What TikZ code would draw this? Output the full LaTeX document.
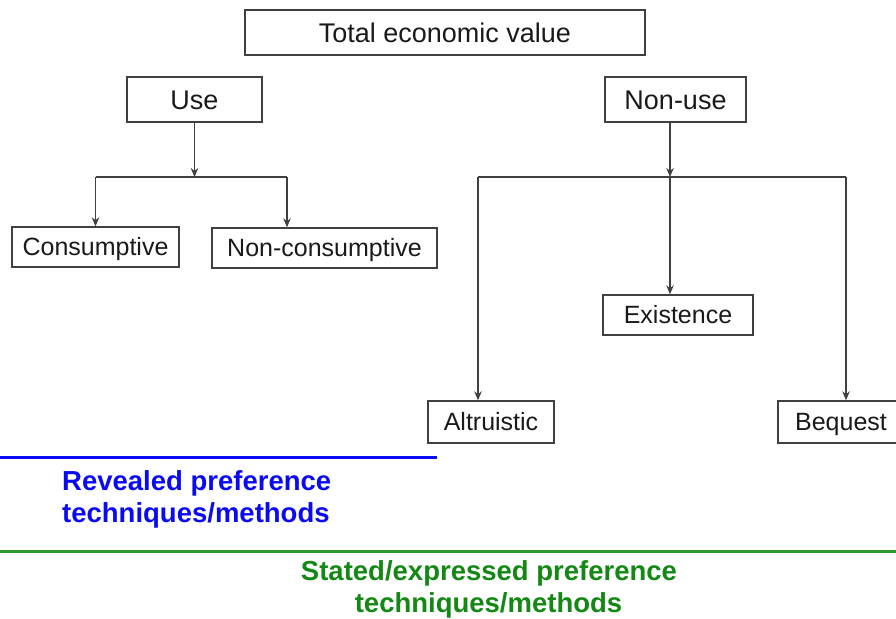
\documentclass[tikz,border=0pt]{standalone}
\usepackage{fontspec}
\setmainfont{Liberation Sans}
\usetikzlibrary{arrows.meta}
\definecolor{boxline}{HTML}{404040}
\definecolor{txt}{HTML}{1A1A1A}
\definecolor{revblue}{HTML}{0A0AF5}
\definecolor{statgreen}{HTML}{148814}
\definecolor{linegreen}{HTML}{2E9A2E}
\begin{document}
\begin{tikzpicture}[x=1pt,y=-1pt,
  box/.style={draw=boxline,line width=1.4pt,inner sep=0pt,text=txt,fill=white,text depth=0pt},
  big/.style={font=\fontsize{27}{32}\selectfont,text height=19.3pt},
  small/.style={font=\fontsize{25}{30}\selectfont,text height=17.9pt},
  conn/.style={draw=boxline,line width=1.2pt},
  arr/.style={conn,-{Stealth[length=9pt,width=7.5pt]}},
  revtext/.style={text=revblue,inner sep=0pt,font=\bfseries\fontsize{27.5}{32}\selectfont},
  stattext/.style={text=statgreen,inner sep=0pt,font=\bfseries\fontsize{27.5}{32}\selectfont}]
\clip (0,0) rectangle (896,618);
\fill[white] (0,0) rectangle (896,618);

% boxes
\node[box,big,minimum width=400pt,minimum height=45pt] (tev) at (445,32.5) {Total economic value};
\node[box,big,minimum width=135pt,minimum height=45pt] (use) at (194.5,99.5) {Use};
\node[box,big,minimum width=141pt,minimum height=45pt] (nonuse) at (675.5,99.5) {Non-use};
\node[box,small,minimum width=167pt,minimum height=40pt] (cons) at (95.5,247) {Consumptive};
\node[box,small,minimum width=225pt,minimum height=40pt] (ncons) at (324.5,248) {Non-consumptive};
\node[box,small,minimum width=150pt,minimum height=40pt] (exist) at (678,315) {Existence};
\node[box,small,minimum width=126pt,minimum height=42pt] (alt) at (491,422) {Altruistic};
\node[box,small,minimum width=126pt,minimum height=42pt] (beq) at (841,422) {Bequest};

% use branch
\coordinate (uj) at (194.5,177);
\coordinate (ul) at (95.5,177);
\coordinate (ur) at (287,177);
\draw[arr] (use) -- (uj);
\draw[conn] (ul) -- (ur);
\draw[arr] (ul) -- (cons.north);
\draw[arr] (ur) -- (ur |- ncons.north);

% non-use branch
\coordinate (nj) at (670,177);
\coordinate (nl) at (478,177);
\coordinate (nr) at (846,177);
\draw[arr] (nj |- nonuse.south) -- (nj);
\draw[conn] (nl) -- (nr);
\draw[arr] (nj) -- (nj |- exist.north);
\draw[arr] (nl) -- (nl |- alt.north);
\draw[arr] (nr) -- (nr |- beq.north);

% separators
\coordinate (bl0) at (0,457);
\coordinate (bl1) at (437,457);
\draw[revblue,line width=3pt] (bl0) -- (bl1);
\coordinate (gl0) at (0,551);
\coordinate (gl1) at (896,551);
\draw[linegreen,line width=3pt] (gl0) -- (gl1);

% labels
\node[revtext,anchor=base west] (rev1) at (62,490.5) {Revealed preference};
\node[revtext,anchor=base west] (rev2) at (62,522.5) {techniques/methods};
\node[stattext,anchor=base] (st1) at (489,580.5) {Stated/expressed preference};
\node[stattext,anchor=base] (st2) at (488.5,612.5) {techniques/methods};
\end{tikzpicture}
\end{document}
